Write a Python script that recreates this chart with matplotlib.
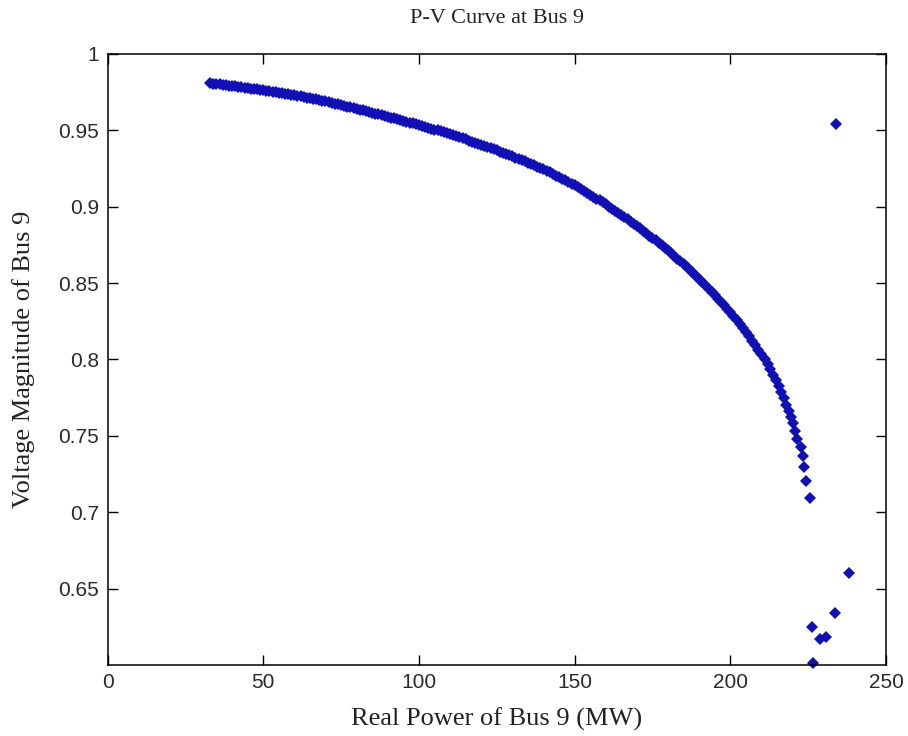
import matplotlib.pyplot as plt

# Real power (MW) and voltage magnitude (upper branch)
p_mw = [33, 34, 35, 36, 37, 38, 39, 40, 41, 42, 43, 44, 45, 46, 47, 48, 49, 50,
        51, 52, 53, 54, 55, 56, 57, 58, 59, 60, 61, 62, 63, 64, 65, 66, 67, 68,
        69, 70, 71, 72, 73, 74, 75, 76, 77, 78, 79, 80, 81, 82, 83, 84, 85, 86,
        87, 88, 89, 90, 91, 92, 93, 94, 95, 96, 97, 98, 99, 100, 101, 102, 103,
        104, 105, 106, 107, 108, 109, 110, 111, 112, 113, 114, 115, 116, 117,
        118, 119, 120, 121, 122, 123, 124, 125, 126, 127, 128, 129, 130, 131,
        132, 133, 134, 135, 136, 137, 138, 139, 140, 141, 142, 143, 144, 145,
        146, 147, 148, 149, 150, 151, 152, 153, 154, 155, 156, 157, 158, 159,
        160, 161, 162, 163, 164, 165, 166, 167, 168, 169, 170, 171, 172, 173,
        174, 175, 176, 177, 178, 179, 180, 181, 182, 183, 184, 185, 186, 187,
        188, 189, 190, 191, 192, 193, 194, 195, 196, 197, 198, 199, 200, 201,
        202, 203, 204, 205, 206, 207, 208, 209, 210, 211, 212, 212.9, 213.8,
        214.7, 215.5, 216.3, 217.2, 218.0, 218.8, 219.5, 220.2, 220.8, 221.4,
        222.6, 223.3, 223.8, 224.4, 225.7]
v_bus9 = [0.9808, 0.9806, 0.9803, 0.9801, 0.9798, 0.9796, 0.9793, 0.9790, 0.9787,
          0.9785, 0.9782, 0.9779, 0.9776, 0.9773, 0.9770, 0.9768, 0.9765, 0.9762,
          0.9759, 0.9756, 0.9752, 0.9749, 0.9746, 0.9743, 0.9740, 0.9737, 0.9733,
          0.9730, 0.9726, 0.9722, 0.9718, 0.9714, 0.9710, 0.9706, 0.9702, 0.9698,
          0.9694, 0.9690, 0.9685, 0.9680, 0.9675, 0.9670, 0.9665, 0.9660, 0.9655,
          0.9650, 0.9645, 0.9640, 0.9635, 0.9630, 0.9624, 0.9619, 0.9614, 0.9609,
          0.9604, 0.9599, 0.9593, 0.9588, 0.9583, 0.9578, 0.9572, 0.9567, 0.9562,
          0.9557, 0.9551, 0.9546, 0.9540, 0.9535, 0.9529, 0.9523, 0.9517, 0.9511,
          0.9505, 0.9499, 0.9493, 0.9487, 0.9481, 0.9475, 0.9468, 0.9461, 0.9454,
          0.9447, 0.9440, 0.9433, 0.9426, 0.9419, 0.9412, 0.9405, 0.9398, 0.9391,
          0.9383, 0.9376, 0.9368, 0.9361, 0.9353, 0.9346, 0.9338, 0.9330, 0.9322,
          0.9314, 0.9305, 0.9297, 0.9288, 0.9280, 0.9271, 0.9263, 0.9254, 0.9245,
          0.9235, 0.9225, 0.9214, 0.9204, 0.9193, 0.9183, 0.9172, 0.9162, 0.9151,
          0.9140, 0.9128, 0.9116, 0.9103, 0.9091, 0.9078, 0.9066, 0.9053, 0.9041,
          0.9028, 0.9015, 0.9001, 0.8987, 0.8973, 0.8959, 0.8945, 0.8931, 0.8917,
          0.8903, 0.8889, 0.8875, 0.8859, 0.8843, 0.8827, 0.8811, 0.8795, 0.8779,
          0.8763, 0.8747, 0.8731, 0.8715, 0.8697, 0.8679, 0.8660, 0.8642, 0.8623,
          0.8605, 0.8586, 0.8568, 0.8549, 0.8530, 0.8508, 0.8486, 0.8464, 0.8442,
          0.8420, 0.8398, 0.8376, 0.8354, 0.8332, 0.8310, 0.8285, 0.8260, 0.8235,
          0.8208, 0.8180, 0.8152, 0.8123, 0.8094, 0.8065, 0.8035, 0.8005, 0.7970,
          0.7935, 0.7900, 0.7865, 0.7825, 0.7785, 0.7745, 0.7705, 0.7665, 0.7625,
          0.7585, 0.7530, 0.7480, 0.7427, 0.7366, 0.7296, 0.7205, 0.7090]

# scattered non-converged points past the nose
p_stray = [226.7, 226.2, 228.9, 230.8, 233.5, 238.2, 234.0]
v_stray = [0.6015, 0.6250, 0.6168, 0.6181, 0.6342, 0.6600, 0.9540]

x_ticks = [0, 50, 100, 150, 200, 250]
y_ticks = [0.65, 0.7, 0.75, 0.8, 0.85, 0.9, 0.95, 1]
y_tick_labels = ['0.65', '0.7', '0.75', '0.8', '0.85', '0.9', '0.95', '1']

fig = plt.figure(figsize=(9.08, 7.36), dpi=100)
ax = fig.add_axes([0.1184, 0.0965, 0.8574, 0.8302])

blue = '#1010b4'
ax.plot(p_mw, v_bus9, linestyle='none', marker='D', markersize=6.5,
        color=blue, markeredgewidth=0)
ax.plot(p_stray, v_stray, linestyle='none', marker='D', markersize=6.5,
        color=blue, markeredgewidth=0, clip_on=False)

ax.set_xlim(0, 250)
ax.set_ylim(0.6, 1.0)
ax.set_xticks(x_ticks)
ax.set_yticks(y_ticks)
ax.set_yticklabels(y_tick_labels)
ax.tick_params(direction='in', length=7, width=1, top=True, right=True,
               labelsize=15, pad=6)
for lbl in ax.get_xticklabels() + ax.get_yticklabels():
    lbl.set_family('Liberation Sans')
    lbl.set_color('#2a2a2a')
for s in ax.spines.values():
    s.set_linewidth(1.1)

ax.set_xlabel('Real Power of Bus 9 (MW)', family='Liberation Serif', fontsize=19,
              labelpad=11, color='#222222')
ax.set_ylabel('Voltage Magnitude of Bus 9', family='Liberation Serif', fontsize=19,
              labelpad=17, color='#222222')
ax.set_title('P-V Curve at Bus 9', family='Liberation Serif', fontsize=16, pad=22,
             color='#222222')

fig.savefig('out.png', dpi=100)
